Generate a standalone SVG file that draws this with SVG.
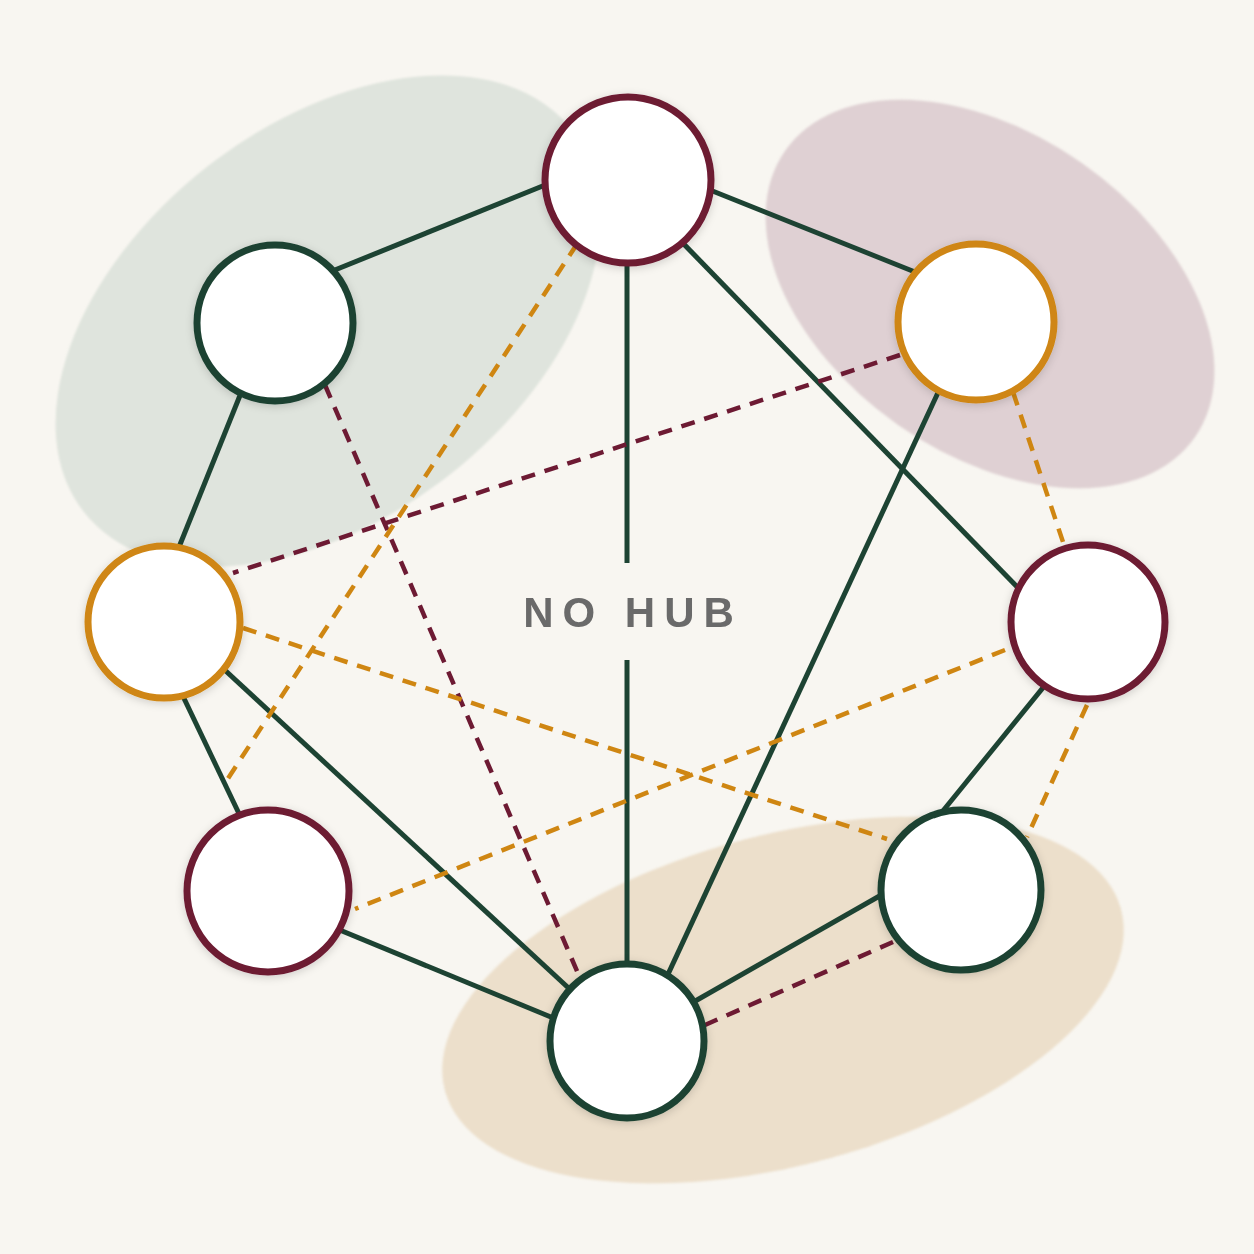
<svg xmlns="http://www.w3.org/2000/svg" width="1254" height="1254" viewBox="0 0 1254 1254">
  <defs>
    <filter id="shadow" x="-30%" y="-30%" width="160%" height="160%">
      <feDropShadow dx="0" dy="2" stdDeviation="4" flood-color="#000" flood-opacity="0.16"/>
    </filter>
    <filter id="soft" x="-10%" y="-10%" width="120%" height="120%">
      <feGaussianBlur stdDeviation="1.2"/>
    </filter>
    <style>
      .solid { stroke: #1d4333; stroke-width: 5; fill: none; stroke-linecap: butt; }
      .dash-red { stroke: #6d1a33; stroke-width: 4.5; fill: none; stroke-dasharray: 14 10; }
      .dash-orange { stroke: #cf8612; stroke-width: 4.5; fill: none; stroke-dasharray: 14 10; }
      .node { fill: #ffffff; stroke-width: 7; filter: url(#shadow); }
      .n-red { stroke: #6d1a33; }
      .n-green { stroke: #1d4333; }
      .n-orange { stroke: #cf8612; }
      .label { font-family: "Liberation Sans", Arial, sans-serif; font-weight: bold; font-size: 42px; fill: #6a6a6a; letter-spacing: 9px; }
    </style>
  </defs>

  <rect x="0" y="0" width="1254" height="1254" fill="#f8f6f1"/>

  <g id="blobs" filter="url(#soft)">
    <ellipse cx="328" cy="321" rx="310" ry="196" transform="rotate(-38 328 321)" fill="#dfe4dd"/>
    <ellipse cx="990" cy="294" rx="250" ry="160" transform="rotate(35 990 294)" fill="#dfd0d3"/>
    <ellipse cx="783" cy="1000" rx="350" ry="165" transform="rotate(-15 783 1000)" fill="#ecdfcb"/>
  </g>

  <g id="connectors">
    <!-- solid -->
    <line class="solid" x1="320" y1="276" x2="560" y2="179"/>
    <line class="solid" x1="695" y1="184" x2="930" y2="278"/>
    <line class="solid" x1="627" y1="255" x2="627" y2="563"/>
    <line class="solid" x1="627" y1="660" x2="627" y2="970"/>
    <line class="solid" x1="675" y1="235" x2="1025" y2="595"/>
    <line class="solid" x1="245" y1="383" x2="175" y2="557"/>
    <line class="solid" x1="180" y1="690" x2="243" y2="822"/>
    <line class="solid" x1="215" y1="661" x2="575" y2="994"/>
    <line class="solid" x1="330" y1="926" x2="563" y2="1022"/>
    <line class="solid" x1="942" y1="384" x2="663" y2="985"/>
    <line class="solid" x1="1050" y1="679" x2="938" y2="817"/>
    <line class="solid" x1="890" y1="890" x2="683" y2="1008"/>
    <!-- dashed red -->
    <line class="dash-red" x1="900" y1="355" x2="233" y2="573"/>
    <line class="dash-red" x1="325" y1="385" x2="580" y2="978"/>
    <line class="dash-red" x1="893" y1="942" x2="705" y2="1025"/>
    <!-- dashed orange -->
    <line class="dash-orange" x1="577" y1="244" x2="225" y2="783"/>
    <line class="dash-orange" x1="1013" y1="392" x2="1064" y2="545"/>
    <line class="dash-orange" x1="243" y1="628" x2="887" y2="839"/>
    <line class="dash-orange" x1="1005" y1="650" x2="355" y2="909"/>
    <line class="dash-orange" x1="1087" y1="705" x2="1027" y2="837"/>
  </g>

  <g id="node-top"><circle class="node n-red" cx="628" cy="180" r="83"/></g>
  <g id="node-upper-left"><circle class="node n-green" cx="275" cy="323" r="78"/></g>
  <g id="node-upper-right"><circle class="node n-orange" cx="976" cy="322" r="78"/></g>
  <g id="node-left"><circle class="node n-orange" cx="164" cy="622" r="76"/></g>
  <g id="node-right"><circle class="node n-red" cx="1088" cy="622" r="77"/></g>
  <g id="node-lower-left"><circle class="node n-red" cx="268" cy="891" r="81"/></g>
  <g id="node-lower-right"><circle class="node n-green" cx="961" cy="890" r="80"/></g>
  <g id="node-bottom"><circle class="node n-green" cx="627" cy="1041" r="77"/></g>

  <g id="label">
    <text class="label" x="633" y="627" text-anchor="middle">NO HUB</text>
  </g>
</svg>
